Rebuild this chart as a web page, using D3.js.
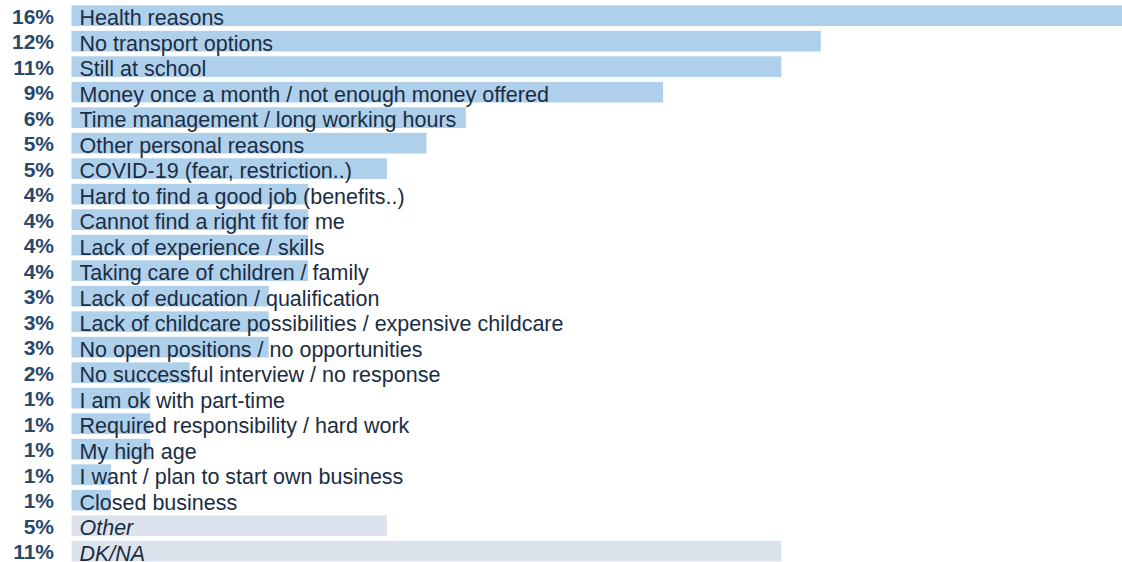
<!DOCTYPE html>
<html>
<head>
<meta charset="utf-8">
<script src="https://cdn.jsdelivr.net/npm/d3@7"></script>
<style>
  html, body { margin: 0; padding: 0; background: #ffffff; }
  svg { display: block; }
</style>
</head>
<body>
<svg id="chart" width="1122" height="562"></svg>
<script>
// Reasons for not working, share of respondents (%)
const categories = [
  "Health reasons",
  "No transport options",
  "Still at school",
  "Money once a month / not enough money offered",
  "Time management / long working hours",
  "Other personal reasons",
  "COVID-19 (fear, restriction..)",
  "Hard to find a good job (benefits..)",
  "Cannot find a right fit for me",
  "Lack of experience / skills",
  "Taking care of children / family",
  "Lack of education / qualification",
  "Lack of childcare possibilities / expensive childcare",
  "No open positions / no opportunities",
  "No successful interview / no response",
  "I am ok with part-time",
  "Required responsibility / hard work",
  "My high age",
  "I want / plan to start own business",
  "Closed business",
  "Other",
  "DK/NA"
];
const values = [
  16.46, 11.59, 10.98, 9.15, 6.10, 5.49, 4.88, 3.66, 3.66, 3.66, 3.66,
  3.05, 3.05, 3.05, 1.83, 1.22, 1.22, 1.22, 0.61, 0.61, 4.88, 10.98
];
// residual answers drawn in grey and italic
const residual = ["Other", "DK/NA"];

const data = categories.map((c, i) => ({ category: c, value: values[i] }));

const svg = d3.select("#chart");

const x = d3.scaleLinear().domain([0, 17]).range([71.5, 1170.5]);
const y = d3.scaleBand()
  .domain(categories)
  .range([2.9, 563.9])
  .paddingInner(0.19)
  .paddingOuter(0.095);

const pct = v => d3.format(".0f")(v) + "%";

const rows = svg.selectAll("g.row")
  .data(data)
  .join("g")
  .attr("class", "row")
  .attr("transform", d => `translate(0,${y(d.category)})`);

rows.append("rect")
  .attr("x", x(0))
  .attr("y", 0)
  .attr("width", d => x(d.value) - x(0))
  .attr("height", y.bandwidth())
  .attr("fill", d => residual.includes(d.category) ? "#dde3ed" : "#afd0eb");

rows.append("text")
  .attr("x", x(0) + 8)
  .attr("y", y.bandwidth() - 0.6)
  .attr("font-family", "'Liberation Sans', Arial, sans-serif")
  .attr("font-size", 21.5)
  .attr("font-style", d => residual.includes(d.category) ? "italic" : "normal")
  .attr("fill", "#1b2d43")
  .text(d => d.category);

rows.append("text")
  .attr("x", 54)
  .attr("y", y.bandwidth() - 2)
  .attr("text-anchor", "end")
  .attr("font-family", "'Liberation Sans', Arial, sans-serif")
  .attr("font-size", 21)
  .attr("font-weight", "bold")
  .attr("fill", "#27496c")
  .text(d => pct(d.value));
</script>
</body>
</html>
